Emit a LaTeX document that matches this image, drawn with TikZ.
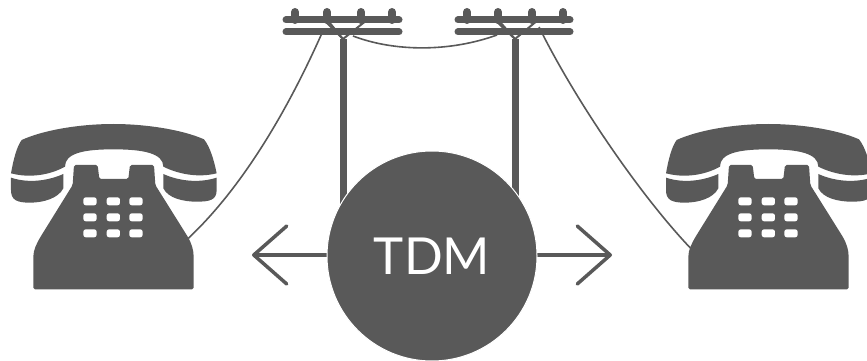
\documentclass[tikz,border=0pt]{standalone}
\usepackage{fontspec}
\setmainfont{Lato}
\usetikzlibrary{calc,arrows.meta,positioning}
\definecolor{darkgray}{HTML}{595959}
\tikzset{
  polebar/.style={darkgray,line width=7pt,line cap=round},
  brace/.style={darkgray,line width=2pt},
  wire/.style={darkgray,line width=1.6pt},
  barb/.style={darkgray,line width=3.5pt,-{Straight Barb[length=33pt,width=58pt,round]}},
  pics/phone/.style={code={
    \begin{scope}[x=.3333pt,y=-.3333pt]
    \fill[darkgray] (33,190) .. controls (40,150) and (50,110) .. (65,90) .. controls (130,60) and (240,42) .. (340,42) .. controls (440,42) and (550,60) .. (612,88) .. controls (630,110) and (642,150) .. (650,190) .. controls (590,205) and (530,190) .. (490,170) .. controls (490,130) and (430,118) .. (340,118) .. controls (250,118) and (195,130) .. (195,170) .. controls (150,195) and (90,205) .. (33,190) -- cycle;
    \fill[darkgray] (33,203) .. controls (90,222) and (150,210) .. (190,192) -- (190,235) .. controls (175,265) and (130,278) .. (90,278) .. controls (50,278) and (33,270) .. (33,240) -- cycle;
    \fill[darkgray] (650,203) .. controls (590,222) and (530,210) .. (490,192) -- (490,235) .. controls (505,265) and (550,275) .. (590,275) .. controls (630,275) and (650,270) .. (650,240) -- cycle;
    \fill[darkgray,rounded corners=5pt/3] (222,165) -- (293,165) -- (298,207) -- (385,207) -- (390,165) -- (462,165) -- (466,225) -- (560,375) .. controls (575,400) and (581,420) .. (581,445) -- (581,538) -- (100,538) -- (100,445) .. controls (100,420) and (110,400) .. (125,375) -- (218,225) -- cycle;
    \foreach \x in {270,340,408}{\foreach \y in {274,322,370}{\fill[white,rounded corners=2.5pt] (\x-20,\y-12) rectangle (\x+20,\y+12);}}
    \coordinate (-jack) at (565,385);
    \coordinate (-ljack) at (106,414);
    \end{scope}
  }}
}
\begin{document}
\begin{tikzpicture}[x=1pt,y=-1pt]
\useasboundingbox (0,0) rectangle (867,361);
\coordinate (lpole) at (343,39);
\coordinate (rpole) at (515,39);
\node[circle,minimum size=210pt,inner sep=0pt] (tdm) at (432,256){};
\foreach \p/\a/\b/\c/\d in {lpole/295/327/361/392,rpole/467/498/532/563}{
  \draw[polebar,line cap=butt] (\p) -- ++(0,165);
  \foreach \i in {\a,\b,\c,\d}{\draw[polebar,line width=8pt] (\i,12) -- (\i,20);}
  \draw[polebar] (\a-9,20) -- (\d+7,20);
  \draw[polebar] (\a-9,32) -- (\d+7,32);
  \draw[brace] (\p) -- (\b-3,20);
  \draw[brace] (\p) -- (\c+6,20);
  \draw[brace] (\b+2,22) -- (\p);
}
\pic (lphone) at (0,110) {phone};
\pic (rphone) at (655,110) {phone};
\coordinate (lwire) at (322,33);
\coordinate (rwire) at (539,27);
\coordinate (lsag) at (353,36);
\coordinate (rsag) at (497,35);
\draw[wire] (lphone-jack) .. controls (245,185) and (290,105) .. (lwire);
\draw[wire] (rphone-ljack) .. controls (640,195) and (575,100) .. (rwire);
\draw[wire] (lsag) .. controls (395,52) and (450,52) .. (rsag);
\coordinate (ltip) at (252,255);
\coordinate (rtip) at (612,255);
\draw[barb] (432,255) -- (ltip);
\draw[barb] (432,255) -- (rtip);
\node[circle,fill=darkgray,draw=white,line width=1pt,minimum size=210pt,inner sep=0pt,text=white,font=\fontsize{51}{51}\selectfont] at (tdm){TDM};
\end{tikzpicture}
\end{document}
